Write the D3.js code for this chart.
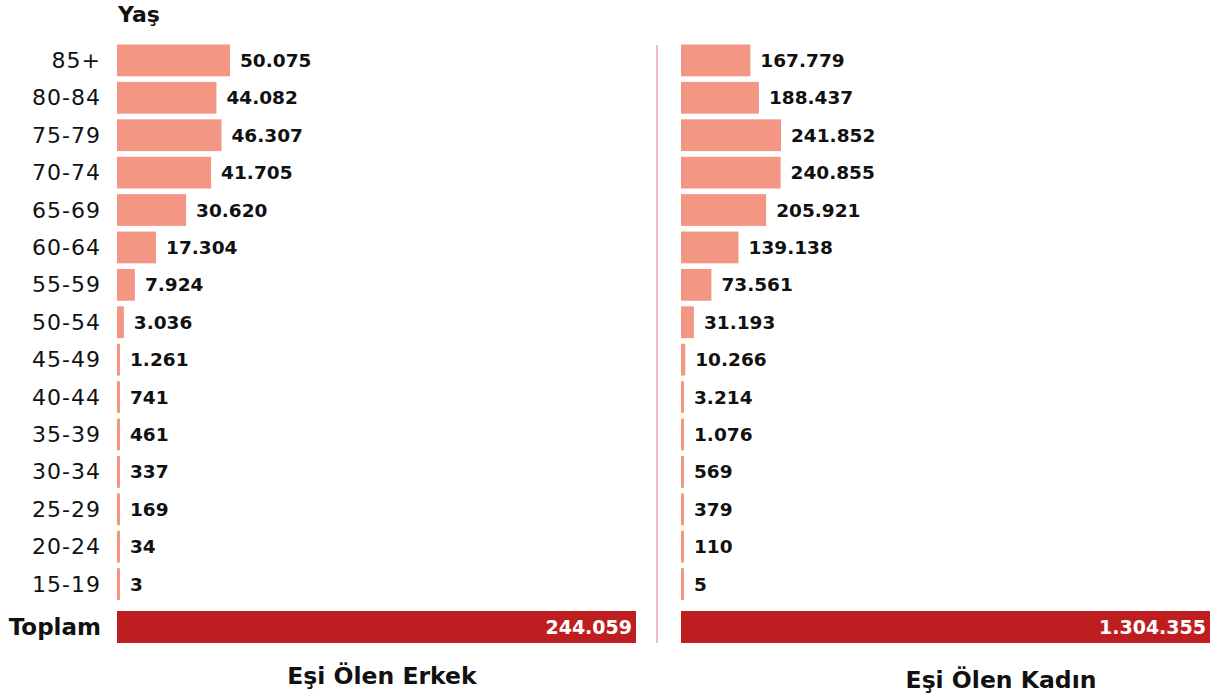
<!DOCTYPE html>
<html>
<head>
<meta charset="utf-8">
<script src="https://cdn.jsdelivr.net/npm/d3@7"></script>
<style>
  html, body { margin: 0; padding: 0; background: #fff; }
  svg { display: block; }
  text { font-family: "DejaVu Sans", sans-serif; fill: #111; }
</style>
</head>
<body>
<svg id="chart" width="1214" height="698"></svg>
<script>
// ---- data ----
const ageGroups = ["85+", "80-84", "75-79", "70-74", "65-69", "60-64", "55-59", "50-54",
                   "45-49", "40-44", "35-39", "30-34", "25-29", "20-24", "15-19"];
const erkekValues = [50075, 44082, 46307, 41705, 30620, 17304, 7924, 3036, 1261, 741, 461, 337, 169, 34, 3];
const kadinValues = [167779, 188437, 241852, 240855, 205921, 139138, 73561, 31193, 10266, 3214, 1076, 569, 379, 110, 5];
const erkekTotal = 244059;
const kadinTotal = 1304355;
const panelTitles = ["Eşi Ölen Erkek", "Eşi Ölen Kadın"];
const totalLabel = "Toplam";
const axisTitle = "Yaş";

// ---- formatting (Turkish thousands separator) ----
const fmt = d3.formatLocale({decimal: ",", thousands: ".", grouping: [3], currency: ["", "₺"]}).format(",d");

const svg = d3.select("#chart");
const barColor = "#f39784";
const totalColor = "#be1e20";

const y = d3.scaleBand().domain(ageGroups).range([44.5, 600]).paddingInner(0.15).paddingOuter(0);
const totalY = 611, totalH = 32;

const panels = [
  {values: erkekValues, total: erkekTotal, x0: 117, xEnd: 636, maxPx: 113, title: panelTitles[0], titleX: 382, titleY: 676},
  {values: kadinValues, total: kadinTotal, x0: 681, xEnd: 1210, maxPx: 100, title: panelTitles[1], titleX: 1001, titleY: 680}
];

// axis labels (age groups)
svg.append("g").selectAll("text").data(ageGroups).join("text")
  .attr("x", 101).attr("y", d => y(d) + y.bandwidth() / 2)
  .attr("text-anchor", "end").attr("dominant-baseline", "central")
  .style("font-size", "22px").style("letter-spacing", "1px")
  .text(d => d);

svg.append("text").attr("x", 118).attr("y", 14)
  .attr("dominant-baseline", "central")
  .style("font-size", "22px").style("font-weight", "bold")
  .text(axisTitle);

svg.append("text").attr("x", 101).attr("y", totalY + totalH / 2)
  .attr("text-anchor", "end").attr("dominant-baseline", "central")
  .style("font-size", "23px").style("font-weight", "bold")
  .text(totalLabel);

// divider
svg.append("line").attr("x1", 657).attr("x2", 657).attr("y1", 45).attr("y2", 643)
  .attr("stroke", "#f2b9cc").attr("stroke-width", 2);

panels.forEach(p => {
  const maxV = d3.max(p.values);
  const x = d3.scaleLinear().domain([0, maxV]).range([0, p.maxPx]);
  const w = v => Math.max(3, x(v));
  const g = svg.append("g");
  g.selectAll("rect.bar").data(p.values).join("rect").attr("class", "bar")
    .attr("x", p.x0).attr("y", (d, i) => y(ageGroups[i]))
    .attr("width", d => w(d)).attr("height", y.bandwidth())
    .attr("fill", barColor);
  g.selectAll("text.val").data(p.values).join("text").attr("class", "val")
    .attr("x", d => p.x0 + w(d) + 10).attr("y", (d, i) => y(ageGroups[i]) + y.bandwidth() / 2)
    .attr("dominant-baseline", "central")
    .style("font-size", "18.5px").style("font-weight", "bold")
    .text(d => fmt(d));
  const xt = d3.scaleLinear().domain([0, p.total]).range([p.x0, p.xEnd]);
  g.append("rect").attr("x", xt(0)).attr("y", totalY).attr("width", xt(p.total) - xt(0)).attr("height", totalH)
    .attr("fill", totalColor);
  g.append("text").attr("x", xt(p.total) - 4).attr("y", totalY + totalH / 2)
    .attr("text-anchor", "end").attr("dominant-baseline", "central")
    .style("font-size", "19px").style("font-weight", "bold").style("fill", "#fff")
    .text(fmt(p.total));
  g.append("text").attr("x", p.titleX).attr("y", p.titleY)
    .attr("text-anchor", "middle").attr("dominant-baseline", "central")
    .style("font-size", "23.5px").style("font-weight", "bold")
    .text(p.title);
});
</script>
</body>
</html>
